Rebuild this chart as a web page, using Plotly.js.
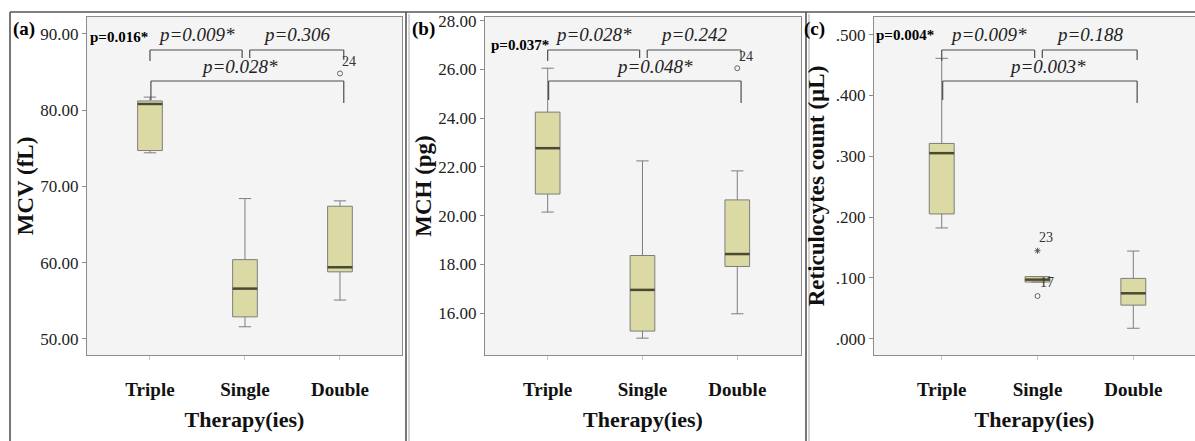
<!DOCTYPE html>
<html><head><meta charset="utf-8">
<script src="https://cdn.plot.ly/plotly-3.0.1.min.js"></script>
<style>html,body{margin:0;padding:0;background:#fff}#chart{width:1195px;height:441px}</style>
</head><body><div id="chart"></div>
<script>
const categories = ['Triple', 'Single', 'Double'];

// (a) MCV (fL)
const mcvLowerFence = [74.4, 51.6, 55.1];
const mcvQ1 = [74.7, 52.9, 58.8];
const mcvMedian = [80.8, 56.6, 59.4];
const mcvQ3 = [81.2, 60.4, 67.4];
const mcvUpperFence = [81.7, 68.4, 68.1];
const mcvOutlierGroup = ['Double'];
const mcvOutlierValue = [84.8];
const mcvOutlierCase = ['24'];
const mcvPairP = ['p=0.009*', 'p=0.306', 'p=0.028*'];
const mcvOverallP = 'p=0.016*';
const mcvTickVals = [50, 60, 70, 80, 90];
const mcvTickText = ['50.00', '60.00', '70.00', '80.00', '90.00'];

// (b) MCH (pg)
const mchLowerFence = [20.15, 14.98, 15.98];
const mchQ1 = [20.89, 15.27, 17.92];
const mchMedian = [22.77, 16.96, 18.43];
const mchQ3 = [24.25, 18.37, 20.65];
const mchUpperFence = [26.05, 22.25, 21.84];
const mchOutlierGroup = ['Double'];
const mchOutlierValue = [26.05];
const mchOutlierCase = ['24'];
const mchPairP = ['p=0.028*', 'p=0.242', 'p=0.048*'];
const mchOverallP = 'p=0.037*';
const mchTickVals = [16, 18, 20, 22, 24, 26, 28];
const mchTickText = ['16.00', '18.00', '20.00', '22.00', '24.00', '26.00', '28.00'];

// (c) Reticulocytes count (µL)
const retLowerFence = [0.182, 0.093, 0.017];
const retQ1 = [0.205, 0.093, 0.055];
const retMedian = [0.305, 0.097, 0.0745];
const retQ3 = [0.321, 0.102, 0.099];
const retUpperFence = [0.461, 0.102, 0.144];
const retOutlierGroup = ['Single', 'Single'];
const retOutlierValue = [0.1445, 0.070];
const retOutlierCase = ['23', '17'];
const retOutlierKind = ['extreme', 'outlier'];
const retPairP = ['p=0.009*', 'p=0.188', 'p=0.003*'];
const retOverallP = 'p=0.004*';
const retTickVals = [0, 0.1, 0.2, 0.3, 0.4, 0.5];
const retTickText = ['.000', '.100', '.200', '.300', '.400', '.500'];

const W = 1195, H = 441;
const px = v => v / W;          // pixel x -> paper
const py = v => 1 - v / H;      // pixel y -> paper

const serif = 'Liberation Serif';
const boxWidth = 0.26;

const panels = [
  { tag: '(a)', title: 'MCV (fL)', lf: mcvLowerFence, q1: mcvQ1, med: mcvMedian, q3: mcvQ3, uf: mcvUpperFence,
    og: mcvOutlierGroup, ov: mcvOutlierValue, oc: mcvOutlierCase, ok: ['outlier'],
    pp: mcvPairP, op: mcvOverallP, tv: mcvTickVals, tt: mcvTickText,
    dom: [87, 402], xr: [-0.663, 2.653], yr: [47.9, 92.2], tagX: 24, opX: 88, opY: 37, ystand: 0, lowShift: -0.08 },
  { tag: '(b)', title: 'MCH (pg)', lf: mchLowerFence, q1: mchQ1, med: mchMedian, q3: mchQ3, uf: mchUpperFence,
    og: mchOutlierGroup, ov: mchOutlierValue, oc: mchOutlierCase, ok: ['outlier'],
    pp: mchPairP, op: mchOverallP, tv: mchTickVals, tt: mchTickText,
    dom: [485, 801], xr: [-0.661, 2.672], yr: [14.29, 28.15], tagX: 423, opX: 489, opY: 45, ystand: 0, lowShift: 0.1 },
  { tag: '(c)', title: 'Reticulocytes count (µL)', lf: retLowerFence, q1: retQ1, med: retMedian, q3: retQ3, uf: retUpperFence,
    og: retOutlierGroup, ov: retOutlierValue, oc: retOutlierCase, ok: retOutlierKind,
    pp: retPairP, op: retOverallP, tv: retTickVals, tt: retTickText,
    dom: [874, 1195], xr: [-0.707, 2.644], yr: [-0.027, 0.529], tagX: 814, opX: 874, opY: 35, ystand: 4, lowShift: 0.08 }
];

const data = [];
const shapes = [];
const annotations = [];
const layout = {
  width: W, height: H,
  margin: { l: 0, r: 0, t: 0, b: 0 },
  paper_bgcolor: '#ffffff',
  plot_bgcolor: '#f4f4f4',
  showlegend: false,
  font: { family: serif, color: '#111' }
};

const bracketPairs = [[0, 0.97], [1.05, 2.04], [0.01, 2.04]];
const bracketLevel = [50, 50, 81];
const bracketDrop = [[61, 58], [58, 60], [100, 103]];
const labelY = [35, 35, 67];

panels.forEach((p, i) => {
  const n = i === 0 ? '' : String(i + 1);
  const xa = 'x' + n, ya = 'y' + n;
  layout['xaxis' + n] = {
    domain: [px(p.dom[0]), px(p.dom[1])], anchor: ya,
    type: 'category', categoryorder: 'array', categoryarray: categories,
    range: p.xr, fixedrange: true,
    showline: true, linecolor: '#8c8c8c', linewidth: 1, mirror: true,
    showgrid: false, zeroline: false,
    ticks: 'outside', ticklen: 4, tickcolor: '#c4c4c4',
    ticklabelstandoff: 13,
    tickfont: { family: serif, size: 19, color: '#111', weight: 'bold' },
    title: { text: 'Therapy(ies)', standoff: 12, font: { family: serif, size: 22, color: '#111', weight: 'bold' } },
    automargin: false
  };
  layout['yaxis' + n] = {
    domain: [py(355), py(17)], anchor: xa,
    range: p.yr, fixedrange: true,
    tickvals: p.tv, ticktext: p.tt,
    showline: true, linecolor: '#8c8c8c', linewidth: 1, mirror: true,
    showgrid: false, zeroline: false,
    ticks: 'outside', ticklen: 4, tickcolor: '#8c8c8c',
    tickfont: { family: serif, size: 17, color: '#222' },
    title: { text: p.title, standoff: p.ystand, font: { family: serif, size: 23, color: '#111', weight: 'bold' } },
    automargin: false
  };

  data.push({
    type: 'box', x: categories, q1: p.q1, median: p.med, q3: p.q3,
    lowerfence: p.lf, upperfence: p.uf,
    xaxis: xa, yaxis: ya, width: boxWidth, whiskerwidth: 0.5,
    fillcolor: '#dcdaa4', line: { color: '#7d7d7d', width: 1 },
    boxpoints: false, hoverinfo: 'skip', showlegend: false
  });

  p.med.forEach((m, j) => {
    shapes.push({ type: 'line', xref: xa, yref: ya, x0: j - boxWidth / 2, x1: j + boxWidth / 2, y0: m, y1: m,
      line: { color: '#4a4a32', width: 2.5 } });
  });

  const kinds = ['outlier', 'extreme'];
  kinds.forEach(k => {
    const xs = [], ys = [];
    p.og.forEach((g, j) => { if (p.ok[j] === k) { xs.push(g); ys.push(p.ov[j]); } });
    if (xs.length) {
      data.push({
        type: 'scatter', mode: 'markers', x: xs, y: ys, xaxis: xa, yaxis: ya,
        marker: k === 'outlier'
          ? { symbol: 'circle-open', size: 5, color: '#666', line: { width: 1, color: '#666' } }
          : { symbol: 'asterisk-open', size: 5, color: '#555', line: { width: 1, color: '#555' } },
        hoverinfo: 'skip', showlegend: false
      });
    }
  });
  p.og.forEach((g, j) => {
    annotations.push({ xref: xa, yref: ya, x: categories.indexOf(g), y: p.ov[j], text: p.oc[j],
      showarrow: false, xshift: p.ok[j] === 'extreme' ? 8 : 9, yshift: p.ok[j] === 'extreme' ? 13 : (i === 2 ? 14 : 12),
      font: { family: serif, size: 14, color: '#333' } });
  });

  bracketPairs.forEach((bp, b) => {
    const lc = { color: '#4d4d4d', width: 1.2 };
    shapes.push({ type: 'line', xref: xa, yref: 'paper', x0: bp[0], x1: bp[1], y0: py(bracketLevel[b]), y1: py(bracketLevel[b]), line: lc });
    shapes.push({ type: 'line', xref: xa, yref: 'paper', x0: bp[0], x1: bp[0], y0: py(bracketLevel[b]), y1: py(bracketDrop[b][0]), line: lc });
    shapes.push({ type: 'line', xref: xa, yref: 'paper', x0: bp[1], x1: bp[1], y0: py(bracketLevel[b]), y1: py(bracketDrop[b][1]), line: lc });
    const cx = (bp[0] + bp[1]) / 2 + (b === 2 ? p.lowShift : 0);
    annotations.push({ xref: xa, yref: 'paper', x: cx, y: py(labelY[b]), yanchor: 'middle',
      text: p.pp[b], showarrow: false, font: { family: serif, size: 19, color: '#222', style: 'italic' } });
  });

  annotations.push({ xref: 'paper', yref: 'paper', x: px(p.opX), y: py(p.opY), xanchor: 'left', yanchor: 'middle',
    text: '<b>' + p.op + '</b>', showarrow: false, font: { family: serif, size: 15, color: '#000' } });
  annotations.push({ xref: 'paper', yref: 'paper', x: px(p.tagX), y: py(29), xanchor: 'center', yanchor: 'middle',
    text: '<b>' + p.tag + '</b>', showarrow: false, font: { family: serif, size: 19, color: '#000' } });
});

const frameLine = { color: '#555', width: 1.6 };
shapes.push({ type: 'line', xref: 'paper', yref: 'paper', x0: px(10), x1: 1, y0: py(12), y1: py(12), line: frameLine, layer: 'below' });
[10, 406, 806].forEach(xp => {
  shapes.push({ type: 'line', xref: 'paper', yref: 'paper', x0: px(xp), x1: px(xp), y0: py(12), y1: 0, line: frameLine, layer: 'below' });
});
[409, 809].forEach(xp => {
  shapes.push({ type: 'line', xref: 'paper', yref: 'paper', x0: px(xp), x1: px(xp), y0: py(14), y1: 0, line: { color: '#aaa', width: 1 }, layer: 'below' });
});

layout.shapes = shapes;
layout.annotations = annotations;

Plotly.newPlot('chart', data, layout, { staticPlot: true, displayModeBar: false });
</script>
</body></html>
